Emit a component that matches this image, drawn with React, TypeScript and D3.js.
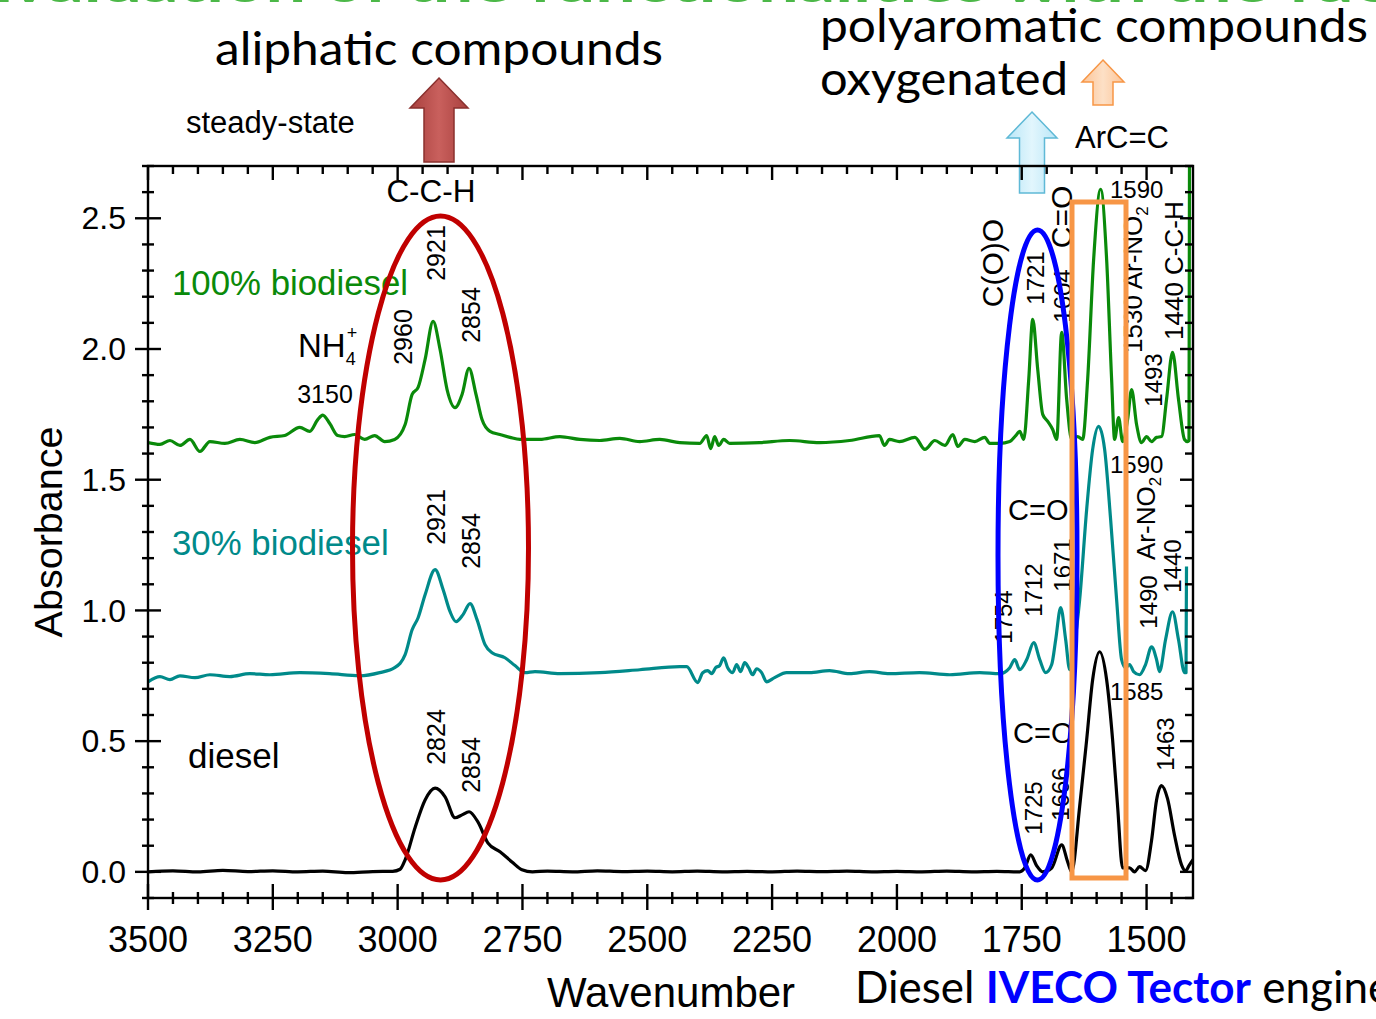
import React from 'react';
import * as d3 from 'd3';

const W = 1376;
const H = 1019;

// ---------- data ----------
const xMajorTicks = [3500, 3250, 3000, 2750, 2500, 2250, 2000, 1750, 1500];
const xTickLabels = ['3500', '3250', '3000', '2750', '2500', '2250', '2000', '1750', '1500'];
const yMajorTicks = [0, 0.5, 1.0, 1.5, 2.0, 2.5];
const yTickLabels = ['0.0', '0.5', '1.0', '1.5', '2.0', '2.5'];
const seriesNames = ['100% biodiesel', '30% biodiesel', 'diesel'];

const diesel: [number, number][] = [
  [3500, 0], [3450, 0.004], [3400, 0], [3350, 0.006], [3300, 0.001], [3250, 0.004], [3200, 0],
  [3150, 0.003], [3100, -0.003], [3050, 0.001], [3010, 0.002], [2995, 0.01], [2985, 0.046],
  [2965, 0.17], [2945, 0.275], [2925, 0.32], [2905, 0.287], [2885, 0.207], [2871, 0.218],
  [2857, 0.23], [2839, 0.19], [2819, 0.11], [2795, 0.077], [2771, 0.038], [2751, 0.008],
  [2730, 0], [2700, 0.003], [2650, 0], [2600, 0.004], [2550, 0.001], [2500, 0.003], [2450, 0],
  [2400, 0.003], [2350, 0], [2300, 0.002], [2250, 0], [2200, 0.003], [2150, 0.001], [2100, 0.003],
  [2050, 0], [2000, 0.002], [1950, 0], [1900, 0.003], [1850, 0], [1800, 0.002], [1754, 0],
  [1744, 0.015], [1732, 0.065], [1720, 0.023], [1708, 0], [1690, 0.015], [1670, 0.103],
  [1658, 0.038], [1650, 0], [1634, 0.25], [1620, 0.505], [1608, 0.735], [1594, 0.842],
  [1580, 0.735], [1568, 0.505], [1558, 0.25], [1548, 0.015], [1534, 0.015], [1524, 0],
  [1514, 0.02], [1502, 0.005], [1490, 0.12], [1480, 0.275], [1470, 0.33], [1458, 0.28],
  [1444, 0.14], [1430, 0.027], [1422, 0.004], [1414, 0.027], [1404, 0.054],
];

const bio30: [number, number][] = [
  [3500, 0.727], [3476, 0.747], [3456, 0.735], [3436, 0.75], [3406, 0.743], [3376, 0.754],
  [3336, 0.747], [3296, 0.758], [3256, 0.754], [3196, 0.762], [3136, 0.758], [3076, 0.75],
  [3036, 0.762], [3006, 0.781], [2985, 0.831], [2971, 0.926], [2959, 0.972], [2945, 1.06],
  [2925, 1.156], [2909, 1.08], [2895, 0.995], [2883, 0.957], [2869, 0.984], [2855, 1.026],
  [2841, 0.965], [2825, 0.869], [2811, 0.838], [2785, 0.819], [2765, 0.789], [2745, 0.762],
  [2725, 0.766], [2675, 0.758], [2595, 0.762], [2515, 0.773], [2435, 0.785], [2421, 0.785],
  [2399, 0.724], [2389, 0.762], [2379, 0.77], [2371, 0.758], [2363, 0.781], [2355, 0.789],
  [2347, 0.819], [2339, 0.781], [2329, 0.762], [2321, 0.793], [2313, 0.766], [2305, 0.8],
  [2297, 0.781], [2289, 0.754], [2281, 0.777], [2271, 0.762], [2261, 0.727], [2245, 0.743],
  [2221, 0.762], [2175, 0.762], [2135, 0.77], [2095, 0.758], [2055, 0.766], [2015, 0.758],
  [1955, 0.762], [1894, 0.754], [1834, 0.762], [1794, 0.758], [1774, 0.781], [1764, 0.812],
  [1754, 0.773], [1740, 0.812], [1726, 0.877], [1714, 0.812], [1702, 0.762], [1690, 0.793],
  [1682, 0.888], [1672, 1.011], [1662, 0.888], [1654, 0.773], [1646, 0.85], [1634, 1.041],
  [1620, 1.386], [1608, 1.616], [1596, 1.704], [1584, 1.616], [1572, 1.348], [1560, 1.041],
  [1550, 0.812], [1542, 0.781], [1534, 0.793], [1526, 0.766], [1514, 0.754], [1502, 0.793],
  [1490, 0.861], [1480, 0.812], [1474, 0.766], [1462, 0.888], [1448, 0.995], [1436, 0.888],
  [1424, 0.762], [1421, 0.762], [1420, 1.168],
];

const bio100: [number, number][] = [
  [3500, 1.642], [3476, 1.635], [3456, 1.65], [3436, 1.631], [3416, 1.654], [3396, 1.608],
  [3376, 1.646], [3346, 1.639], [3316, 1.654], [3286, 1.642], [3256, 1.662], [3226, 1.669],
  [3196, 1.7], [3176, 1.685], [3160, 1.73], [3150, 1.747], [3136, 1.715], [3120, 1.669],
  [3106, 1.665], [3086, 1.673], [3066, 1.654], [3046, 1.669], [3026, 1.646], [3006, 1.654],
  [2985, 1.711], [2971, 1.826], [2959, 1.853], [2945, 1.96], [2929, 2.106], [2915, 1.998],
  [2901, 1.845], [2885, 1.776], [2871, 1.826], [2857, 1.926], [2843, 1.826], [2831, 1.73],
  [2815, 1.685], [2795, 1.673], [2775, 1.662], [2755, 1.654], [2715, 1.654], [2675, 1.665],
  [2635, 1.654], [2595, 1.65], [2555, 1.658], [2515, 1.646], [2475, 1.654], [2435, 1.642],
  [2395, 1.639], [2381, 1.669], [2373, 1.619], [2365, 1.665], [2357, 1.631], [2347, 1.654],
  [2335, 1.639], [2275, 1.642], [2215, 1.65], [2155, 1.642], [2095, 1.65], [2035, 1.669],
  [2025, 1.631], [2015, 1.654], [1995, 1.646], [1964, 1.662], [1944, 1.616], [1924, 1.65],
  [1904, 1.631], [1888, 1.673], [1878, 1.627], [1864, 1.654], [1844, 1.646], [1824, 1.662],
  [1814, 1.639], [1794, 1.639], [1774, 1.646], [1762, 1.669], [1754, 1.685], [1746, 1.654],
  [1736, 1.884], [1728, 2.113], [1718, 1.922], [1708, 1.75], [1698, 1.723], [1688, 1.692],
  [1680, 1.654], [1670, 2.064], [1660, 1.807], [1650, 1.654], [1638, 1.665], [1628, 1.654],
  [1618, 1.884], [1606, 2.343], [1592, 2.611], [1580, 2.343], [1570, 1.884], [1564, 1.654],
  [1556, 1.738], [1548, 1.646], [1538, 1.73], [1530, 1.845], [1520, 1.711], [1510, 1.642],
  [1500, 1.665], [1490, 1.646], [1480, 1.662], [1470, 1.665], [1460, 1.807], [1448, 1.987],
  [1436, 1.807], [1424, 1.654], [1418, 1.646], [1415, 1.65], [1414, 2.75],
];

// ---------- layout ----------
const PL = 148, PR = 1193, PT = 166, PB = 898;
const ARIAL = "'Liberation Sans', Arial, Helvetica, sans-serif";
const CAL = "Lato, 'Open Sans', sans-serif";
const GREEN = '#0a8a0a';
const TEAL = '#008a8a';

function arrowPath(tx: number, ty: number, headHalf: number, headH: number, shaftHalf: number, bottom: number) {
  return `M${tx},${ty} L${tx + headHalf},${ty + headH} L${tx + shaftHalf},${ty + headH} L${tx + shaftHalf},${bottom} L${tx - shaftHalf},${bottom} L${tx - shaftHalf},${ty + headH} L${tx - headHalf},${ty + headH} Z`;
}

const VText = ({ cx, cy, size, fill = '#000', children, anchor = 'middle' }: any) => (
  <text transform={`translate(${cx},${cy}) rotate(-90)`} textAnchor={anchor} dominantBaseline="central"
    fontFamily={ARIAL} fontSize={size} fill={fill}>{children}</text>
);

export default function App() {
  const x = d3.scaleLinear().domain([3500, 1407]).range([PL, PR]);
  const y = d3.scaleLinear().domain([-0.1, 2.7]).range([PB, PT]);
  const line = d3.line<[number, number]>().x(d => x(d[0])).y(d => y(d[1])).curve(d3.curveMonotoneX);

  const xMinor = d3.range(3500, 1407, -50);
  const yMinor = d3.range(-0.1, 2.71, 0.1);

  return (
    <svg width={W} height={H} style={{ position: 'absolute', left: 0, top: 0, background: '#fff' }}
      xmlns="http://www.w3.org/2000/svg">
      <defs>
        <clipPath id="plotclip"><rect x={PL} y={PT} width={PR - PL} height={PB - PT} /></clipPath>
        <linearGradient id="redArrow" x1="0" x2="1" y1="0" y2="0">
          <stop offset="0" stopColor="#a8403e" />
          <stop offset="0.5" stopColor="#c9605d" />
          <stop offset="1" stopColor="#a8403e" />
        </linearGradient>
        <linearGradient id="blueArrow" x1="0" x2="1" y1="0" y2="0">
          <stop offset="0" stopColor="#b9e6f7" />
          <stop offset="0.5" stopColor="#e2f6fd" />
          <stop offset="1" stopColor="#b9e6f7" />
        </linearGradient>
        <linearGradient id="orangeArrow" x1="0" x2="1" y1="0" y2="0">
          <stop offset="0" stopColor="#fcc497" />
          <stop offset="0.5" stopColor="#fde0c6" />
          <stop offset="1" stopColor="#fcc497" />
        </linearGradient>
      </defs>
      <rect x={0} y={0} width={W} height={H} fill="#fff" />

      {/* clipped title at very top */}
      <text x={-30} y={1.5} fontFamily={CAL} fontWeight="bold" fontSize={52} fill="#4cb848"
        textLength={1440} lengthAdjust="spacingAndGlyphs">Evaluation of the functionalities with the fuel</text>

      {/* headings */}
      <text x={215} y={65} fontFamily={CAL} fontSize={46} fill="#000" textLength={448} lengthAdjust="spacingAndGlyphs">aliphatic compounds</text>
      <text x={820} y={42} fontFamily={CAL} fontSize={46} fill="#000" textLength={548} lengthAdjust="spacingAndGlyphs">polyaromatic compounds</text>
      <text x={820} y={95} fontFamily={CAL} fontSize={46} fill="#000" textLength={248} lengthAdjust="spacingAndGlyphs">oxygenated</text>

      {/* arrows */}
      <path d={arrowPath(439, 78, 29, 30, 15, 162)} fill="url(#redArrow)" stroke="#8a302e" strokeWidth={1.5} />
      <path d={arrowPath(1032, 112, 25, 26, 12.5, 193)} fill="url(#blueArrow)" stroke="#5fb9d6" strokeWidth={1.5} />
      <path d={arrowPath(1103, 60, 21, 22, 10, 105)} fill="url(#orangeArrow)" stroke="#f79646" strokeWidth={1.5} />

      <text x={186} y={133} fontFamily={ARIAL} fontSize={31} fill="#000">steady-state</text>
      <text x={1075} y={148} fontFamily={ARIAL} fontSize={31} fill="#000">ArC=C</text>
      <text x={431} y={202} textAnchor="middle" fontFamily={ARIAL} fontSize={31.5} fill="#000">C-C-H</text>

      {/* series labels */}
      <text x={172} y={295} fontFamily={ARIAL} fontSize={34.8} fill={GREEN}>{seriesNames[0]}</text>
      <text x={172} y={555} fontFamily={ARIAL} fontSize={34.8} fill={TEAL}>{seriesNames[1]}</text>
      <text x={188} y={768} fontFamily={ARIAL} fontSize={35} fill="#000">{seriesNames[2]}</text>

      {/* left peak annotations */}
      <VText cx={436} cy={253} size={25}>2921</VText>
      <VText cx={403} cy={337} size={25}>2960</VText>
      <VText cx={471} cy={315} size={25}>2854</VText>
      <text x={325} y={403} textAnchor="middle" fontFamily={ARIAL} fontSize={25}>3150</text>
      <text x={298} y={357} fontFamily={ARIAL} fontSize={33}>NH<tspan fontSize={18} dy={8}>4</tspan><tspan fontSize={18} dx={-9} dy={-26}>+</tspan></text>
      <VText cx={436} cy={517} size={25}>2921</VText>
      <VText cx={471} cy={541} size={25}>2854</VText>
      <VText cx={436} cy={737} size={25}>2824</VText>
      <VText cx={471} cy={765} size={25}>2854</VText>

      {/* right peak annotations - green */}
      <VText cx={992} cy={263} size={30}>C(O)O</VText>
      <VText cx={1035} cy={278} size={24}>1721</VText>
      <VText cx={1062} cy={296} size={24}>1604</VText>
      <VText cx={1061} cy={217} size={30}>C=O</VText>
      <text x={1110} y={198} fontFamily={ARIAL} fontSize={24}>1590</text>
      <text transform={`translate(1133,353) rotate(-90)`} dominantBaseline="central" fontFamily={ARIAL} fontSize={26}>1530 Ar-NO<tspan fontSize={17} dy={9}>2</tspan></text>
      <VText cx={1153} cy={380} size={24}>1493</VText>
      <text transform={`translate(1174,340) rotate(-90)`} dominantBaseline="central" fontFamily={ARIAL} fontSize={26}>1440 C-C-H</text>

      {/* right peak annotations - teal */}
      <text x={1110} y={473} fontFamily={ARIAL} fontSize={24}>1590</text>
      <text x={1008} y={520} fontFamily={ARIAL} fontSize={29}>C=O</text>
      <text transform={`translate(1146,560) rotate(-90)`} dominantBaseline="central" fontFamily={ARIAL} fontSize={26}>Ar-NO<tspan fontSize={17} dy={9}>2</tspan></text>
      <VText cx={1148} cy={602} size={24}>1490</VText>
      <VText cx={1172} cy={566} size={24}>1440</VText>
      <VText cx={1003} cy={617} size={24}>1754</VText>
      <VText cx={1033} cy={590} size={24}>1712</VText>
      <VText cx={1062} cy={565} size={24}>1671</VText>

      {/* right peak annotations - black */}
      <text x={1110} y={700} fontFamily={ARIAL} fontSize={24}>1585</text>
      <text x={1013} y={743} fontFamily={ARIAL} fontSize={29}>C=O</text>
      <VText cx={1033} cy={808} size={24}>1725</VText>
      <VText cx={1060} cy={794} size={24}>1666</VText>
      <VText cx={1165} cy={744} size={24}>1463</VText>

      {/* spectra */}
      <g clipPath="url(#plotclip)" fill="none" strokeWidth={3.2} strokeLinejoin="round">
        <path d={line(bio100) || ''} stroke={GREEN} />
        <path d={line(bio30) || ''} stroke={TEAL} />
        <path d={line(diesel) || ''} stroke="#000" />
      </g>

      {/* frame */}
      <g stroke="#000" strokeWidth={2.4} fill="none">
        <rect x={PL} y={PT} width={PR - PL} height={PB - PT} />
        {xMinor.map(v => {
          const major = xMajorTicks.includes(v);
          return (
            <g key={'xt' + v}>
              <line x1={x(v)} x2={x(v)} y1={major ? PB - 14 : PB - 6} y2={major ? PB + 12 : PB + 6} />
              <line x1={x(v)} x2={x(v)} y1={PT} y2={PT + (major ? 14 : 8)} />
            </g>
          );
        })}
        {yMinor.map((v, i) => {
          const major = yMajorTicks.some(m => Math.abs(m - v) < 1e-6);
          return (
            <g key={'yt' + i}>
              <line x1={major ? PL - 13 : PL - 6} x2={major ? PL + 13 : PL + 6} y1={y(v)} y2={y(v)} />
              <line x1={PR - (major ? 13 : 8)} x2={PR} y1={y(v)} y2={y(v)} />
            </g>
          );
        })}
      </g>

      {/* tick labels */}
      {xMajorTicks.map((v, i) => (
        <text key={'xl' + v} x={x(v)} y={952} textAnchor="middle" fontFamily={ARIAL} fontSize={36} fill="#000">{xTickLabels[i]}</text>
      ))}
      {yMajorTicks.map((v, i) => (
        <text key={'yl' + v} x={126} y={y(v)} dy="0.35em" textAnchor="end" fontFamily={ARIAL} fontSize={32} fill="#000">{yTickLabels[i]}</text>
      ))}

      {/* axis titles */}
      <text transform="translate(48,532) rotate(-90)" textAnchor="middle" dominantBaseline="central" fontFamily={ARIAL} fontSize={39.5} fill="#000">Absorbance</text>
      <text x={671} y={1007} textAnchor="middle" fontFamily={ARIAL} fontSize={42} fill="#000">Wavenumber</text>
      <text x={855} y={1003} fontFamily={CAL} fontSize={44} fill="#000">Diesel <tspan fill="#0000ff" fontWeight="bold">IVECO Tector</tspan> engine</text>

      {/* highlight shapes */}
      <ellipse cx={440.5} cy={548} rx={88} ry={332} fill="none" stroke="#c00000" strokeWidth={5} />
      <ellipse cx={1037.5} cy={555} rx={39.5} ry={325} fill="none" stroke="#0000ff" strokeWidth={5} />
      <rect x={1072} y={202} width={54} height={676} fill="none" stroke="#f79646" strokeWidth={5} />
    </svg>
  );
}
